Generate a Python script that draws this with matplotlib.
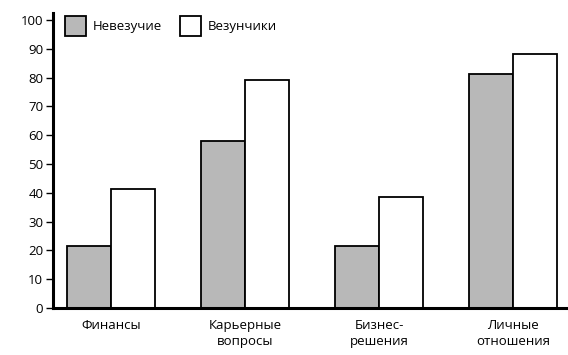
import numpy as np
import matplotlib.pyplot as plt

plt.rcParams['font.family'] = ['Open Sans', 'DejaVu Sans']

# данные
categories = ['Финансы', 'Карьерные\nвопросы', 'Бизнес-\nрешения', 'Личные\nотношения']
unlucky = [21.5, 58, 21.5, 81.3]
lucky = [41.3, 79.2, 38.5, 88.2]
yticks = list(range(0, 101, 10))

fig = plt.figure(figsize=(5.68, 3.55), dpi=100)
ax = fig.add_axes([0.0933, 0.1324, 0.9067, 0.831])

x = np.arange(len(categories))
w = 0.33
ax.bar(x - w / 2, unlucky, w, color='#b8b8b8', edgecolor='black', linewidth=1.3, label='Невезучие')
ax.bar(x + w / 2, lucky, w, color='white', edgecolor='black', linewidth=1.3, label='Везунчики')

ax.set_xlim(-0.433, 3.41)
ax.set_ylim(0, 102.4)
ax.set_yticks(yticks)
ax.set_xticks(x)
ax.set_xticklabels(categories, fontsize=9.5, linespacing=1.25)
ax.tick_params(axis='x', length=0, pad=8)
ax.tick_params(axis='y', length=5, width=1, labelsize=9.5, pad=2)

for s in ['top', 'right']:
    ax.spines[s].set_visible(False)
ax.spines['left'].set_linewidth(2.2)
ax.spines['bottom'].set_linewidth(2.2)

ax.legend(loc='upper left', bbox_to_anchor=(0.0, 1.03), ncol=2, frameon=False,
          fontsize=9.5, handlelength=1.6, handleheight=1.9, columnspacing=1.3, handletextpad=0.55)

fig.savefig('out.png', dpi=100)
